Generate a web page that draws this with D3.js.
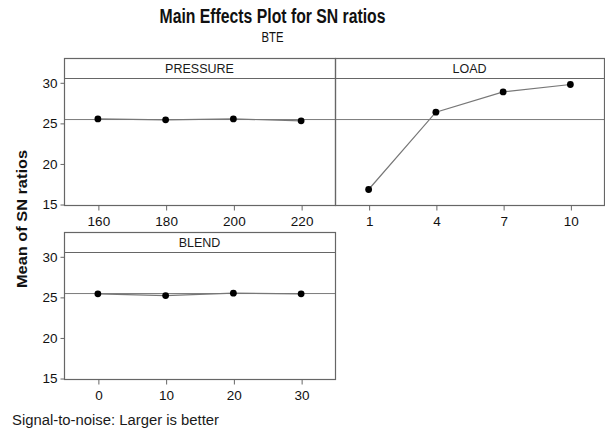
<!DOCTYPE html>
<html><head><meta charset="utf-8">
<script src="https://cdn.jsdelivr.net/npm/d3@7"></script>
<style>body{margin:0;background:#fff}svg{display:block}</style>
</head><body>
<svg id="c" width="605" height="434"></svg>
<script>
const factors = ["PRESSURE", "LOAD", "BLEND"];
const pressureLevels = ["160", "180", "200", "220"];
const pressureMeans = [25.49, 25.37, 25.49, 25.25];
const loadLevels = ["1", "4", "7", "10"];
const loadMeans = [16.79, 26.32, 28.82, 29.73];
const blendLevels = ["0", "10", "20", "30"];
const blendMeans = [25.37, 25.16, 25.46, 25.37];
const overallMean = 25.41;
const yTicks = [15, 20, 25, 30];

const svg = d3.select("#c");
const font = "'Liberation Sans', Arial, sans-serif";
const frameCol = "#666";

const panels = [
  {name: factors[0], levels: pressureLevels, means: pressureMeans, x0: 64, x1: 335, top: 58, yAxis: true},
  {name: factors[1], levels: loadLevels, means: loadMeans, x0: 335, x1: 604, top: 58, yAxis: false},
  {name: factors[2], levels: blendLevels, means: blendMeans, x0: 64, x1: 335, top: 232, yAxis: true}
];
const headerH = 20, plotH = 127;

// title
svg.append("text").attr("x", 272.5).attr("y", 23).attr("text-anchor", "middle")
  .attr("font-family", font).attr("font-weight", "bold").attr("font-size", 19.5)
  .attr("textLength", 226).attr("lengthAdjust", "spacingAndGlyphs")
  .attr("fill", "#111").text("Main Effects Plot for SN ratios");
svg.append("text").attr("x", 272.5).attr("y", 42).attr("text-anchor", "middle")
  .attr("font-family", font).attr("font-size", 14)
  .attr("textLength", 22).attr("lengthAdjust", "spacingAndGlyphs")
  .attr("fill", "#111").text("BTE");

panels.forEach(p => {
  const hb = p.top + headerH, bot = hb + plotH;
  const x = d3.scalePoint().domain(p.levels).range([p.x0, p.x1]).padding(0.5);
  const y = d3.scaleLinear().domain([14.88, 30.53]).range([bot, hb]);
  const g = svg.append("g");
  // mean reference line
  g.append("line").attr("x1", p.x0).attr("x2", p.x1)
    .attr("y1", y(overallMean)).attr("y2", y(overallMean))
    .attr("stroke", "#7a7a7a").attr("stroke-width", 1);
  // frame and header
  g.append("rect").attr("x", p.x0 + 0.5).attr("y", p.top + 0.5)
    .attr("width", p.x1 - p.x0).attr("height", headerH + plotH)
    .attr("fill", "none").attr("stroke", frameCol).attr("stroke-width", 1.2);
  g.append("line").attr("x1", p.x0).attr("x2", p.x1)
    .attr("y1", hb + 0.5).attr("y2", hb + 0.5)
    .attr("stroke", frameCol).attr("stroke-width", 1.2);
  g.append("text").attr("x", (p.x0 + p.x1) / 2).attr("y", p.top + 15)
    .attr("text-anchor", "middle").attr("font-family", font).attr("font-size", 12.5)
    .attr("fill", "#1a1a1a").text(p.name);
  // axes
  const xa = g.append("g").attr("transform", `translate(0.5,${bot + 0.5})`)
    .call(d3.axisBottom(x).tickSize(5).tickPadding(6));
  xa.select(".domain").remove();
  xa.selectAll("line").attr("stroke", frameCol);
  xa.selectAll("text").attr("font-family", font).attr("font-size", 13.5).attr("fill", "#111");
  if (p.yAxis) {
    const ya = g.append("g").attr("transform", `translate(${p.x0 + 0.5},0.5)`)
      .call(d3.axisLeft(y).tickValues(yTicks).tickSize(4).tickPadding(3));
    ya.select(".domain").remove();
    ya.selectAll("line").attr("stroke", frameCol);
    ya.selectAll("text").attr("font-family", font).attr("font-size", 13.5).attr("fill", "#111");
  }
  // data line and points
  const pts = p.levels.map((l, i) => [x(l), y(p.means[i])]);
  g.append("path").attr("d", d3.line()(pts)).attr("fill", "none")
    .attr("stroke", "#777").attr("stroke-width", 1.2);
  g.selectAll("circle.pt").data(pts).join("circle").attr("class", "pt")
    .attr("cx", d => d[0]).attr("cy", d => d[1]).attr("r", 3.4).attr("fill", "#000");
});

// y axis label
svg.append("text").attr("transform", "translate(27,219) rotate(-90)")
  .attr("text-anchor", "middle").attr("font-family", font).attr("font-weight", "bold")
  .attr("font-size", 14.5).attr("textLength", 138).attr("lengthAdjust", "spacingAndGlyphs")
  .attr("fill", "#111").text("Mean of SN ratios");

// footer
svg.append("text").attr("x", 12).attr("y", 425).attr("font-family", font)
  .attr("font-size", 14).attr("textLength", 207).attr("lengthAdjust", "spacingAndGlyphs")
  .attr("fill", "#1a1a1a").text("Signal-to-noise: Larger is better");
</script>
</body></html>
